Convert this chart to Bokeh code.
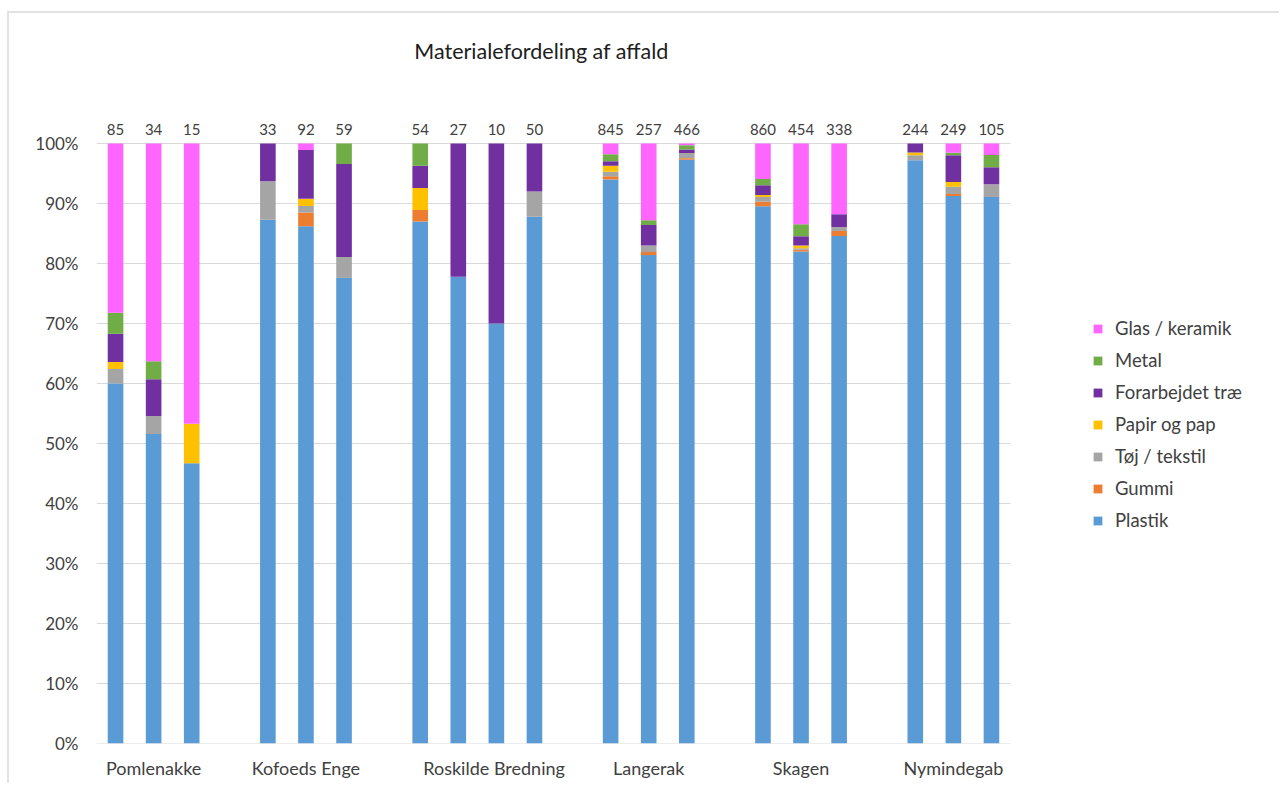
from bokeh.plotting import figure
from bokeh.models import (ColumnDataSource, FixedTicker, PrintfTickFormatter, Legend,
                          LegendItem, LabelSet, Label, Range1d)
from bokeh.core.properties import value
from bokeh.embed import file_html
from bokeh.resources import INLINE

# Locations and the number of surveys (bars) at each
groups = ["Pomlenakke", "Kofoeds Enge", "Roskilde  Bredning", "Langerak", "Skagen", "Nymindegab"]
group_sizes = [3, 3, 4, 3, 3, 3]

# Item count per survey, shown above each bar
totals = [85, 34, 15, 33, 92, 59, 54, 27, 10, 50, 845, 257, 466, 860, 454, 338, 244, 249, 105]

materials = ["Plastik", "Gummi", "Tøj / tekstil", "Papir og pap",
             "Forarbejdet træ", "Metal", "Glas / keramik"]

# Share of each material per survey (%)
plastik = [60.0, 51.6, 46.7, 87.3, 86.2, 77.6, 87.0, 77.8, 70.0, 87.8,
           94.0, 81.4, 97.3, 89.55, 82.0, 84.6, 97.2, 91.25, 91.1]
gummi = [0, 0, 0, 0, 2.3, 0, 1.9, 0, 0, 0,
         0.55, 0.5, 0.25, 0.75, 0.3, 0.8, 0, 0.35, 0]
tekstil = [2.4, 3.0, 0, 6.4, 1.1, 3.5, 0, 0, 0, 4.2,
           0.75, 1.1, 0.85, 0.8, 0.25, 0.7, 0.85, 1.2, 2.1]
papir = [1.2, 0, 6.6, 0, 1.2, 0, 3.7, 0, 0, 0,
         1.0, 0, 0, 0.3, 0.45, 0, 0.45, 0.8, 0]
trae = [4.7, 6.1, 0, 6.3, 8.1, 15.5, 3.7, 22.2, 30.0, 8.0,
        0.75, 3.4, 0.6, 1.65, 1.55, 2.1, 1.5, 4.45, 2.85]
metal = [3.5, 3.0, 0, 0, 0, 3.4, 3.7, 0, 0, 0,
         1.15, 0.8, 0.7, 1.05, 2.0, 0, 0, 0.4, 2.05]
glas = [28.2, 36.3, 46.7, 0, 1.1, 0, 0, 0, 0, 0,
        1.8, 12.8, 0.3, 5.9, 13.45, 11.8, 0, 1.55, 1.9]

y_ticks = list(range(0, 101, 10))

colors = ["#5B9BD5", "#ED7D31", "#A5A5A5", "#FFC000", "#7030A0", "#70AD47", "#FF66FF"]
keys = ["plastik", "gummi", "tekstil", "papir", "trae", "metal", "glas"]

# Bar slots: one empty slot between locations
xs, tick_pos = [], []
pos = 0
for size in group_sizes:
    xs.extend(range(pos, pos + size))
    tick_pos.append(pos + size // 2)
    pos += size + 1
n_slots = pos - 1  # no gap after the last location

src = ColumnDataSource(dict(x=xs, total=[str(t) for t in totals], top=[100] * len(xs),
                            plastik=plastik, gummi=gummi, tekstil=tekstil, papir=papir,
                            trae=trae, metal=metal, glas=glas))

FONT = "Lato"
TXT = "#404040"
GRID = "#d9d9d9"

# The frame also holds the title, the counts and the legend, so the bar area
# is only part of it: 914 px of bars inside a 1175 px wide frame.
PLOT_PX, FRAME_PX = 914, 1175
X0 = -0.5
X_END = X0 + n_slots                  # right edge of the bar area
X1 = X0 + n_slots * FRAME_PX / PLOT_PX
Y_TOP = 120

p = figure(width=1272, height=772, output_backend="svg", toolbar_location=None,
           x_range=Range1d(X0, X1), y_range=Range1d(0, Y_TOP),
           min_border_left=87, min_border_right=1272 - 87 - FRAME_PX,
           min_border_top=10, min_border_bottom=42)
p.margin = (11, 0, 0, 7)
p.styles = {"border-top": "2px solid #e2e2e2", "border-left": "2px solid #e2e2e2"}

p.outline_line_color = None
p.background_fill_color = "white"
p.border_fill_color = "white"
p.xgrid.grid_line_color = None
p.ygrid.grid_line_color = None

# Horizontal gridlines across the bar area only
p.segment(x0=[X0] * len(y_ticks), x1=[X_END] * len(y_ticks), y0=y_ticks, y1=y_ticks,
          line_color=GRID, line_width=1)

renderers = p.vbar_stack(keys, x="x", width=0.41, source=src,
                         fill_color=colors, line_color=None)

# Axes
p.yaxis.ticker = FixedTicker(ticks=y_ticks)
p.yaxis.formatter = PrintfTickFormatter(format="%d%%")
p.yaxis.axis_line_color = None
p.yaxis.major_tick_line_color = None
p.yaxis.minor_tick_line_color = None
p.yaxis.major_label_standoff = 12
p.yaxis.major_label_text_font = FONT
p.yaxis.major_label_text_font_size = "17px"
p.yaxis.major_label_text_color = TXT

p.xaxis.ticker = FixedTicker(ticks=tick_pos)
p.xaxis.major_label_overrides = {t: g for t, g in zip(tick_pos, groups)}
p.xaxis.axis_line_color = None
p.xaxis.major_tick_line_color = None
p.xaxis.minor_tick_line_color = None
p.xaxis.major_label_standoff = 7
p.xaxis.major_label_text_font = FONT
p.xaxis.major_label_text_font_size = "18px"
p.xaxis.major_label_text_color = TXT

# Chart title
p.add_layout(Label(x=(X0 + X_END) / 2, y=115.5, x_offset=-12,
                   text="Materialefordeling af affald",
                   text_align="center", text_baseline="middle", text_font=FONT,
                   text_font_size="21.5px", text_color="#202020"))

# Totals above bars
labels = LabelSet(x="x", y="top", text="total", source=src, text_align="center",
                  text_baseline="alphabetic", y_offset=9, text_font=value(FONT),
                  text_font_size="15px", text_color=TXT)
p.add_layout(labels)

# Legend, topmost material first
items = [LegendItem(label=m, renderers=[r]) for m, r in zip(materials, renderers)][::-1]
legend = Legend(items=items, location=(996, 212), padding=0, margin=0,
                glyph_width=11, glyph_height=11, label_height=20, spacing=10,
                label_standoff=12, label_text_font=FONT, label_text_font_size="18.5px",
                label_text_color=TXT, border_line_color=None, background_fill_alpha=0)
p.add_layout(legend)

open("out.html", "w").write(file_html(p, INLINE))
